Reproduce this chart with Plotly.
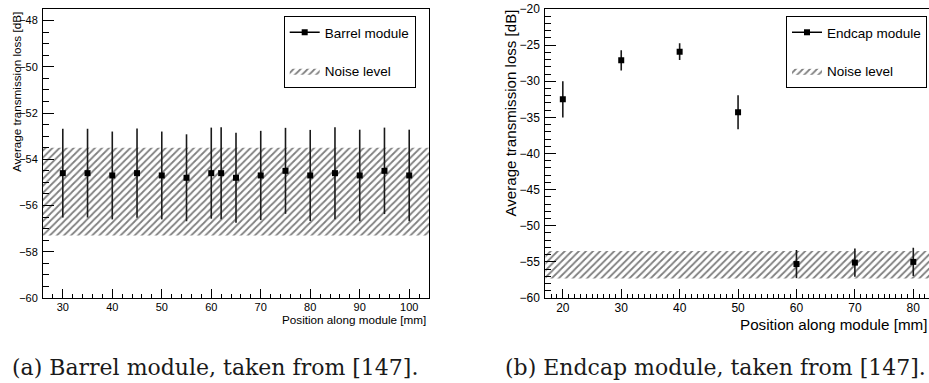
import plotly.graph_objects as go

W, H = 929, 383

# ---- data ----
barrel_pos = [30, 35, 40, 45, 50, 55, 60, 62, 65, 70, 75, 80, 85, 90, 95, 100]
barrel_loss = [-54.6, -54.6, -54.7, -54.6, -54.7, -54.8, -54.6, -54.6,
               -54.8, -54.7, -54.5, -54.7, -54.6, -54.7, -54.5, -54.7]
barrel_err = [1.92, 1.92, 1.90, 1.93, 1.90, 1.88, 1.97, 1.99,
              1.95, 1.93, 1.86, 1.97, 1.99, 1.98, 1.87, 1.98]

endcap_pos = [20, 30, 40, 50, 60, 70, 80]
endcap_loss = [-32.5, -27.1, -25.9, -34.3, -55.3, -55.1, -55.0]
endcap_err = [2.5, 1.4, 1.15, 2.35, 1.95, 1.95, 1.95]

noise_mean = -55.4
noise_err = 1.9

barrel_xrange = [26, 104]
barrel_yrange = [-60, -47.5]
endcap_xrange = [17, 82.69]
endcap_yrange = [-60, -20]

caption_a = "(a) Barrel module, taken from [147]."
caption_b = "(b) Endcap module, taken from [147]."
xtitle = "Position along module [mm]"
ytitle = "Average transmission loss [dB]"

SANS = "Liberation Sans, Arial, Helvetica, sans-serif"
SERIF = "DejaVu Serif, serif"


def px(x):
    return x / W


def py(y):
    return 1 - y / H


fig = go.Figure()


def add_panel(xa, ya, xr, pos, loss, err, name, leg):
    lo, hi = noise_mean - noise_err, noise_mean + noise_err
    # hatched noise band across the full axis range
    fig.add_trace(go.Scatter(
        x=[xr[0], xr[1], xr[1], xr[0], xr[0]],
        y=[hi, hi, lo, lo, hi],
        mode="lines", fill="toself",
        fillcolor="white",
        fillpattern=dict(shape="/", fgcolor="black", bgcolor="white",
                         size=5, solidity=0.35),
        line=dict(width=0, color="black"),
        name="Noise level", legend=leg, legendgroup="noise",
        legendrank=2, xaxis=xa, yaxis=ya, hoverinfo="skip"))
    # measured points with error bars
    fig.add_trace(go.Scatter(
        x=pos, y=loss, mode="markers",
        marker=dict(symbol="square", size=6, color="black"),
        error_y=dict(type="data", array=err, visible=True, width=0,
                     thickness=1.6, color="#1a1a1a"),
        showlegend=False, xaxis=xa, yaxis=ya))
    # legend entry (line + marker)
    fig.add_trace(go.Scatter(
        x=[None], y=[None], mode="lines+markers",
        marker=dict(symbol="square", size=6, color="black"),
        line=dict(color="black", width=1.5),
        name=name, legend=leg, legendgroup="data", legendrank=1,
        xaxis=xa, yaxis=ya))


add_panel("x", "y", barrel_xrange, barrel_pos, barrel_loss, barrel_err,
          "Barrel module", "legend")
add_panel("x2", "y2", endcap_xrange, endcap_pos, endcap_loss, endcap_err,
          "Endcap module", "legend2")


def axis(domain, rng, dtick, minor, ticklen, fsize, anchor, mirror=True,
         standoff=2):
    return dict(
        domain=domain, range=rng, anchor=anchor,
        showgrid=False, zeroline=False, automargin=False,
        showline=True, linecolor="black", linewidth=1, mirror=mirror,
        ticks="inside", ticklen=ticklen, tickwidth=1, tickcolor="black",
        dtick=dtick, tick0=0,
        minor=dict(dtick=minor, ticks="inside", ticklen=ticklen / 2,
                   tickwidth=1, tickcolor="black", showgrid=False),
        tickfont=dict(family=SANS, size=fsize, color="black"),
        ticklabelstandoff=standoff,
    )


left_x = [px(43), px(429)]
right_x = [px(545.3), 1.0]
ydom = [py(298), py(9)]

legend_style = dict(
    yanchor="top", xanchor="left", y=py(16),
    bordercolor="black", borderwidth=1, bgcolor="white",
    font=dict(family=SANS, size=13.5, color="black"),
    tracegroupgap=18, itemwidth=30,
)

fig.update_layout(
    width=W, height=H,
    autosize=False,
    margin=dict(l=0, r=0, t=0, b=0, pad=0, autoexpand=False),
    paper_bgcolor="white", plot_bgcolor="white",
    xaxis=axis(left_x, barrel_xrange, 10, 2, 9, 11, "y", standoff=-1),
    yaxis=axis(ydom, barrel_yrange, 2, 0.5, 11, 11, "x"),
    xaxis2=axis(right_x, endcap_xrange, 10, 1, 9, 12, "y2", standoff=-1),
    yaxis2=axis(ydom, endcap_yrange, 5, 1, 11, 12, "x2", mirror=False),
    legend=dict(legend_style, x=px(283.7)),
    legend2=dict(legend_style, x=px(786)),
)

ann = []
# axis titles (right/top aligned along the axes)
ann.append(dict(text=xtitle, x=px(428), y=py(319.5), xref="paper", yref="paper",
                xanchor="right", yanchor="middle", showarrow=False,
                font=dict(family=SANS, size=11.7, color="black")))
ann.append(dict(text=xtitle, x=px(929), y=py(324), xref="paper", yref="paper",
                xanchor="right", yanchor="middle", showarrow=False,
                font=dict(family=SANS, size=15.2, color="black")))
ann.append(dict(text=ytitle, x=px(16), y=py(10), xref="paper", yref="paper",
                xanchor="center", yanchor="top", textangle=-90, showarrow=False,
                font=dict(family=SANS, size=11.7, color="black")))
ann.append(dict(text=ytitle, x=px(510), y=py(8), xref="paper", yref="paper",
                xanchor="center", yanchor="top", textangle=-90, showarrow=False,
                font=dict(family=SANS, size=15.1, color="black")))
# sub-figure captions
ann.append(dict(text=caption_a, x=px(10), y=py(367), xref="paper", yref="paper",
                xanchor="left", yanchor="middle", showarrow=False,
                font=dict(family=SERIF, size=22, color="#1a1a1a")))
ann.append(dict(text=caption_b, x=px(503), y=py(367), xref="paper", yref="paper",
                xanchor="left", yanchor="middle", showarrow=False,
                font=dict(family=SERIF, size=22, color="#1a1a1a")))
fig.update_layout(annotations=ann)

fig.write_html("out.html")
